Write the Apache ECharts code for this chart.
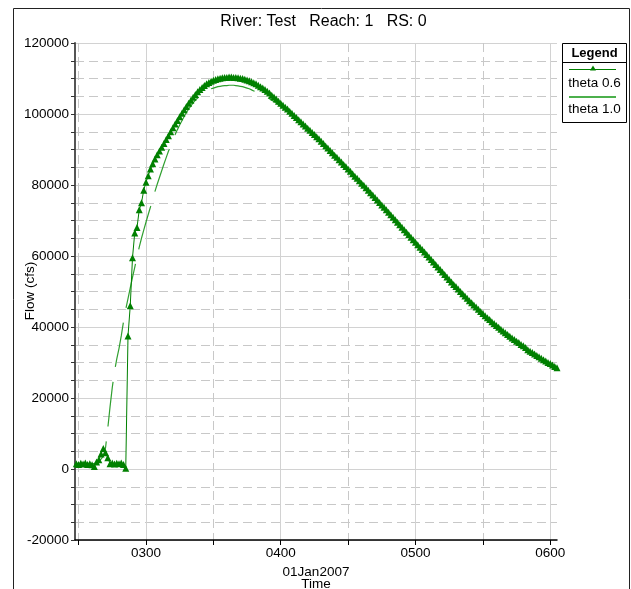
<!DOCTYPE html>
<html>
<head>
<meta charset="utf-8">
<style>
  html, body { margin: 0; padding: 0; background: #ffffff; }
  #chart { width: 631px; height: 589px; }
</style>
<script src="https://cdn.jsdelivr.net/npm/echarts@6/dist/echarts.min.js"></script>
</head>
<body>
<div id="chart"></div>
<script>
// Flow hydrograph, River: Test  Reach: 1  RS: 0, one value per minute on 01Jan2007.
const startMinute = 149; // first output time, 02:29

// Flow (cfs), theta 0.6 run
const theta06 = [
  1500, 1300, 1600, 1400, 1700, 1300, 1500, 1200, 700, 2000,
  2600, 4200, 5800, 4600, 3200, 1500, 1700, 1400, 1600, 1500,
  1700, 1300, 200, 37500, 46000, 59500, 66500, 68000, 73000, 75000,
  78500, 80800, 82600, 84500, 86000, 87300, 88500, 89600, 90600, 91700,
  92800, 93900, 95000, 96100, 97200, 98200, 99200, 100200, 101200, 102100,
  103000, 103900, 104700, 105500, 106300, 106900, 107500, 108000, 108500, 108900,
  109200, 109500, 109700, 109900, 110100, 110200, 110300, 110300, 110400, 110400,
  110300, 110300, 110200, 110100, 110000, 109800, 109600, 109400, 109100, 108800,
  108500, 108100, 107700, 107300, 106900, 106400, 105900, 105300, 104800, 104200,
  103600, 103000, 102500, 101900, 101400, 100800, 100200, 99600, 99000, 98400,
  97800, 97200, 96600, 96000, 95400, 94800, 94200, 93600, 93000, 92300,
  91700, 91000, 90400, 89700, 89100, 88400, 87800, 87100, 86500, 85800,
  85200, 84500, 83900, 83200, 82500, 81900, 81200, 80500, 79900, 79200,
  78500, 77800, 77200, 76500, 75800, 75100, 74400, 73700, 73000, 72300,
  71600, 70900, 70200, 69500, 68800, 68100, 67400, 66700, 66000, 65300,
  64600, 63900, 63200, 62500, 61800, 61100, 60400, 59700, 59000, 58300,
  57600, 56900, 56200, 55500, 54800, 54100, 53400, 52700, 52000, 51400,
  50700, 50000, 49400, 48700, 48100, 47400, 46800, 46200, 45600, 45000,
  44400, 43800, 43200, 42600, 42100, 41500, 41000, 40400, 39900, 39400,
  38900, 38400, 37900, 37400, 36900, 36500, 36000, 35600, 35100, 34700,
  34200, 33600, 33200, 32800, 32400, 32000, 31600, 31200, 30800, 30400,
  30000, 29700, 29300, 28900, 28500
];

// Flow (cfs), theta 1.0 run
const theta10 = [
  1600, 1500, 1500, 1600, 1500, 1400, 1500, 1500, 1600, 1800,
  2200, 2800, 3600, 6000, 11500, 17500, 23000, 27500, 31000, 34000,
  37500, 41500, 45000, 48000, 51000, 54000, 56800, 59800, 62500, 65000,
  67300, 69500, 71700, 73800, 76000, 78200, 80200, 82100, 84000, 85900,
  87700, 89500, 91100, 92700, 94200, 95600, 96900, 98100, 99300, 100400,
  101400, 102300, 103100, 103900, 104500, 105100, 105600, 106000, 106400, 106800,
  107100, 107300, 107500, 107700, 107800, 107900, 108000, 108000, 108100, 108100,
  108100, 108000, 107900, 107800, 107700, 107500, 107300, 107100, 106800, 106500,
  106200, 105900, 105700, 105400, 105000, 104700, 104300, 103900, 103500, 103100,
  102600, 102200, 101800, 101300, 100800, 100300, 99800, 99300, 98700, 98200,
  97600, 97000, 96400, 95800, 95200, 94600, 94000, 93400, 92800, 92100,
  91500, 90800, 90200, 89500, 88900, 88200, 87600, 86900, 86300, 85600,
  85000, 84300, 83700, 83000, 82300, 81700, 81000, 80300, 79700, 79000,
  78300, 77600, 77000, 76300, 75600, 74900, 74200, 73500, 72800, 72100,
  71400, 70700, 70000, 69300, 68600, 67900, 67200, 66500, 65800, 65100,
  64400, 63700, 63000, 62300, 61600, 60900, 60200, 59500, 58800, 58100,
  57400, 56700, 56000, 55300, 54600, 53900, 53200, 52500, 51800, 51200,
  50500, 49800, 49200, 48500, 47900, 47200, 46600, 46000, 45400, 44800,
  44200, 43600, 43000, 42400, 41900, 41300, 40800, 40200, 39700, 39200,
  38700, 38200, 37700, 37200, 36700, 36300, 35800, 35400, 34900, 34500,
  34000, 33400, 33000, 32600, 32200, 31800, 31400, 31000, 30600, 30200,
  29800, 29500, 29100, 28700, 28300
];

// Time axis ticks (minutes after midnight) and their labels
const hourTicks = [180, 240, 300, 360];
const hourLabels = ['0300', '0400', '0500', '0600'];
const halfHourTicks = [150, 210, 270, 330];

const seriesNames = ['theta 0.6', 'theta 1.0'];
const titleText = 'River: Test   Reach: 1   RS: 0';
const dateLabel = '01Jan2007';
const xTitle = 'Time';
const yTitle = 'Flow (cfs)';

const FONT = '"Liberation Sans", Arial, Helvetica, sans-serif';
const DARK_GREEN = '#008000';
const LIGHT_GREEN = '#2f9f2f';
const GRID_SOLID = '#d2d2d2';
const GRID_DASH = '#c8c8c8';

function toPairs(values) {
  return values.map((v, i) => [startMinute + i, v]);
}

function hourLabel(v) {
  const idx = hourTicks.indexOf(Math.round(v));
  return idx >= 0 ? hourLabels[idx] : '';
}

const chart = echarts.init(document.getElementById('chart'), null, { renderer: 'canvas' });

const centeredText = (text, font) => ({
  text: text, font: font, fill: '#000',
  align: 'center', verticalAlign: 'middle',
  textAlign: 'center', textVerticalAlign: 'middle'
});

const option = {
  animation: false,
  backgroundColor: '#ffffff',
  textStyle: { fontFamily: FONT },
  grid: { left: 75, right: 74, top: 43, bottom: 49, outerBoundsMode: 'none' },
  xAxis: [
    {
      type: 'value',
      min: 148.4,
      max: 363,
      position: 'bottom',
      axisLine: { show: true, onZero: false, lineStyle: { color: '#000', width: 1.5 } },
      axisTick: { show: true, customValues: hourTicks, length: 5, lineStyle: { color: '#000' } },
      axisLabel: {
        customValues: hourTicks, formatter: hourLabel, color: '#000',
        fontSize: 13.5, fontFamily: FONT, margin: 6
      },
      splitLine: { show: true, lineStyle: { color: GRID_SOLID, width: 1, type: 'solid' } },
      name: dateLabel + '\n' + xTitle,
      nameLocation: 'middle',
      nameGap: 19,
      nameTextStyle: { color: '#000', fontSize: 13.5, fontFamily: FONT, lineHeight: 12 }
    },
    {
      type: 'value',
      min: 148.4,
      max: 363,
      position: 'bottom',
      axisLine: { show: false, onZero: false },
      axisTick: { show: true, customValues: halfHourTicks, length: 5, lineStyle: { color: '#000' } },
      axisLabel: { show: false },
      splitLine: { show: true, lineStyle: { color: GRID_DASH, width: 1, type: [9, 5] } }
    }
  ],
  yAxis: {
    type: 'value',
    min: -20000,
    max: 120000,
    interval: 20000,
    axisLine: { show: true, onZero: false, lineStyle: { color: '#555', width: 2 } },
    axisTick: { show: true, length: 4, lineStyle: { color: '#333' } },
    minorTick: { show: true, splitNumber: 4, length: 4, lineStyle: { color: '#333' } },
    axisLabel: {
      formatter: v => String(v), color: '#000',
      fontSize: 13.5, fontFamily: FONT, margin: 6
    },
    splitLine: { show: true, lineStyle: { color: GRID_SOLID, width: 1 } },
    minorSplitLine: { show: true, lineStyle: { color: GRID_DASH, width: 1, type: [9, 5] } }
  },
  series: [
    {
      name: seriesNames[1],
      type: 'line',
      xAxisIndex: 0,
      data: toPairs(theta10),
      showSymbol: false,
      symbol: 'none',
      lineStyle: { color: LIGHT_GREEN, width: 1.2, type: [45, 15] },
      z: 2,
      silent: true
    },
    {
      name: seriesNames[0],
      type: 'line',
      xAxisIndex: 0,
      data: toPairs(theta06),
      symbol: 'triangle',
      symbolSize: 7,
      showSymbol: true,
      itemStyle: { color: DARK_GREEN, borderWidth: 0 },
      lineStyle: { color: DARK_GREEN, width: 1 },
      z: 3,
      silent: true
    }
  ],
  graphic: [
    // outer frame
    {
      type: 'rect', silent: true, z: 0,
      shape: { x: 13.5, y: 8.5, width: 616, height: 620 },
      style: { fill: 'none', stroke: '#222', lineWidth: 1 }
    },
    // chart title
    { type: 'text', silent: true, x: 323.5, y: 22, style: centeredText(titleText, '16px ' + FONT) },
    // vertical axis title
    {
      type: 'text', silent: true, x: 30, y: 291, rotation: Math.PI / 2,
      style: centeredText(yTitle, '13.5px ' + FONT)
    },
    // legend box
    {
      type: 'group', silent: true, z: 10,
      children: [
        {
          type: 'rect', shape: { x: 562.5, y: 43.5, width: 64, height: 79 },
          style: { fill: '#fff', stroke: '#000', lineWidth: 1 }
        },
        {
          type: 'line', shape: { x1: 562.5, y1: 62.5, x2: 626.5, y2: 62.5 },
          style: { stroke: '#000', lineWidth: 1 }
        },
        { type: 'text', x: 594.5, y: 53, style: centeredText('Legend', 'bold 13px ' + FONT) },
        {
          type: 'line', shape: { x1: 569, y1: 69.5, x2: 616, y2: 69.5 },
          style: { stroke: DARK_GREEN, lineWidth: 1 }
        },
        {
          type: 'polygon', shape: { points: [[593, 65.5], [596, 70.5], [590, 70.5]] },
          style: { fill: DARK_GREEN }
        },
        { type: 'text', x: 594.5, y: 83, style: centeredText(seriesNames[0], '13.5px ' + FONT) },
        {
          type: 'line', shape: { x1: 569, y1: 97, x2: 616, y2: 97 },
          style: { stroke: '#4cb04c', lineWidth: 2 }
        },
        { type: 'text', x: 594.5, y: 109, style: centeredText(seriesNames[1], '13.5px ' + FONT) }
      ]
    }
  ]
};

chart.setOption(option);
</script>
</body>
</html>
